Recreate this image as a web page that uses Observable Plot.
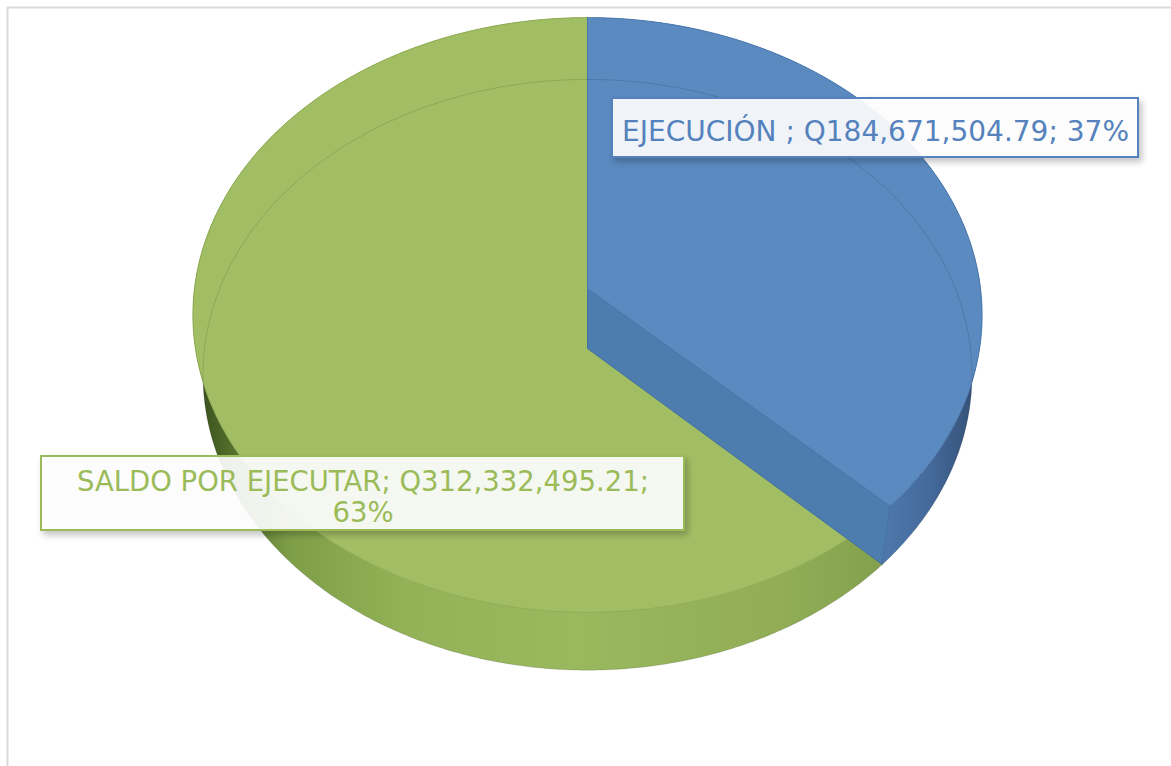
<!DOCTYPE html>
<html>
<head>
<meta charset="utf-8">
<script src="https://cdn.jsdelivr.net/npm/d3@7"></script>
<script src="https://cdn.jsdelivr.net/npm/@observablehq/plot@0.6"></script>
<style>
  html, body { margin: 0; padding: 0; background: #ffffff; }
  #chart svg { display: block; }
</style>
</head>
<body>
<div id="chart"></div>
<script>
// ---- data ----
const names = ["EJECUCIÓN ", "SALDO POR EJECUTAR"];
const values = [184671504.79, 312332495.21];
const topColors = ["#5b8ac1", "#a2be65"];
const edgeColors = ["#4a78ad", "#8eab52"];
const textColors = ["#5582bd", "#9bbb59"];
const labelBreaks = [" ", "\n"];

// ---- layout ----
const W = 1171, H = 766;
const cx = 587;
const k = 0.0891;                       // perspective factor
const topFace = {cy: 288, A: 393, B: 295};
const botFace = {cy: 348, A: 383, B: 293};
const labelBoxes = [
  {x1: 612, x2: 1138, y1: 98, y2: 157, fs: 28},
  {x1: 41, x2: 684, y1: 456, y2: 530, fs: 27.5}
];

function proj(theta, face, r = 1) {
  const u = r * Math.sin(theta), v = -r * Math.cos(theta);
  const w = 1 / (1 - k * v);
  return {x: cx + face.A * u * w, y: face.cy + face.B * v * w};
}
function arcPts(a0, a1, face) {
  const n = Math.max(2, Math.ceil(Math.abs(a1 - a0) / (2 * Math.PI) * 720));
  const pts = [];
  for (let i = 0; i <= n; i++) pts.push(proj(a0 + (a1 - a0) * i / n, face));
  return pts;
}
const close = pts => pts.concat([pts[0]]);

const arcs = d3.pie().sort(null).value(d => d)(values);
const total = d3.sum(values);

const tops = arcs.map(a => close([proj(0, topFace, 0), ...arcPts(a.startAngle, a.endAngle, topFace)]));
const sides = arcs.map(a => close([...arcPts(a.startAngle, a.endAngle, topFace), ...arcPts(a.endAngle, a.startAngle, botFace)]));
const e0 = arcs[0].endAngle;
const cutFace = close([proj(0, topFace, 0), proj(e0, topFace), proj(e0, botFace), proj(0, botFace, 0)]);
const bottomOutline = arcPts(0, 2 * Math.PI, botFace);

const fmt = d3.format(",.2f");
const pct = d3.format(".0%");
const labels = names.map((n, i) => ({
  ...labelBoxes[i],
  cx: (labelBoxes[i].x1 + labelBoxes[i].x2) / 2,
  cy: (labelBoxes[i].y1 + labelBoxes[i].y2) / 2 + 3,
  text: `${n}; Q${fmt(values[i])};${labelBreaks[i]}${pct(values[i] / total)}`,
  color: textColors[i]
}));

const XY = {x: "x", y: "y"};
const chart = Plot.plot({
  width: W,
  height: H,
  margin: 0,
  x: {domain: [0, W], range: [0, W], axis: null},
  y: {domain: [0, H], range: [0, H], axis: null},
  marks: [
    Plot.ruleY([7], {x1: 7, x2: W, stroke: "#d9d9d9", strokeWidth: 2}),
    Plot.ruleX([7], {y1: 7, y2: H, stroke: "#d9d9d9", strokeWidth: 2}),
    Plot.line(sides[1], {...XY, fill: "url(#gSideGreen)", stroke: "none"}),
    Plot.line(sides[0], {...XY, fill: "url(#gSideBlue)", stroke: "none"}),
    Plot.line(tops[1], {...XY, fill: topColors[1], stroke: edgeColors[1], strokeWidth: 1}),
    Plot.line(cutFace, {...XY, fill: "#4d7cae", stroke: "#43709f", strokeWidth: 1}),
    Plot.line(tops[0], {...XY, fill: topColors[0], stroke: edgeColors[0], strokeWidth: 1}),
    Plot.line(bottomOutline, {...XY, stroke: "#000", strokeOpacity: 0.13, strokeWidth: 1}),
    Plot.rect(labels, {x1: "x1", x2: "x2", y1: "y1", y2: "y2", fill: "#ffffff", fillOpacity: 0.9, stroke: "color", strokeWidth: 2}),
    Plot.text([labels[0]], {x: "cx", y: "cy", text: "text", fill: "color", fontSize: labels[0].fs, lineHeight: 1.14,
      fontFamily: "'DejaVu Sans', Verdana, sans-serif", textAnchor: "middle"}),
    Plot.text([labels[1]], {x: "cx", y: "cy", text: "text", fill: "color", fontSize: labels[1].fs, lineHeight: 1.14,
      fontFamily: "'DejaVu Sans', Verdana, sans-serif", textAnchor: "middle"})
  ]
});

const svg = d3.select(chart);
const defs = svg.insert("defs", ":first-child");
const gG = defs.append("linearGradient").attr("id", "gSideGreen")
  .attr("gradientUnits", "userSpaceOnUse").attr("x1", 192).attr("x2", 890).attr("y1", 0).attr("y2", 0);
[[0, "#34491a"], [0.05, "#4f6b29"], [0.14, "#7e9e47"], [0.3, "#93b257"], [0.55, "#9ab85e"], [0.85, "#90ad56"], [1, "#82a04c"]]
  .forEach(([o, c]) => gG.append("stop").attr("offset", o).attr("stop-color", c));
const gB = defs.append("linearGradient").attr("id", "gSideBlue")
  .attr("gradientUnits", "userSpaceOnUse").attr("x1", 880).attr("x2", 983).attr("y1", 0).attr("y2", 0);
[[0, "#4f7aac"], [0.5, "#44689a"], [0.85, "#37557c"], [1, "#2a4261"]]
  .forEach(([o, c]) => gB.append("stop").attr("offset", o).attr("stop-color", c));
const f = defs.append("filter").attr("id", "shadow").attr("x", "-5%").attr("y", "-20%").attr("width", "115%").attr("height", "160%");
f.append("feDropShadow").attr("dx", 3).attr("dy", 4).attr("stdDeviation", 3).attr("flood-color", "#000").attr("flood-opacity", 0.25);
svg.selectAll('g[aria-label="rect"]').attr("filter", "url(#shadow)");

document.getElementById("chart").appendChild(chart);
</script>
</body>
</html>
